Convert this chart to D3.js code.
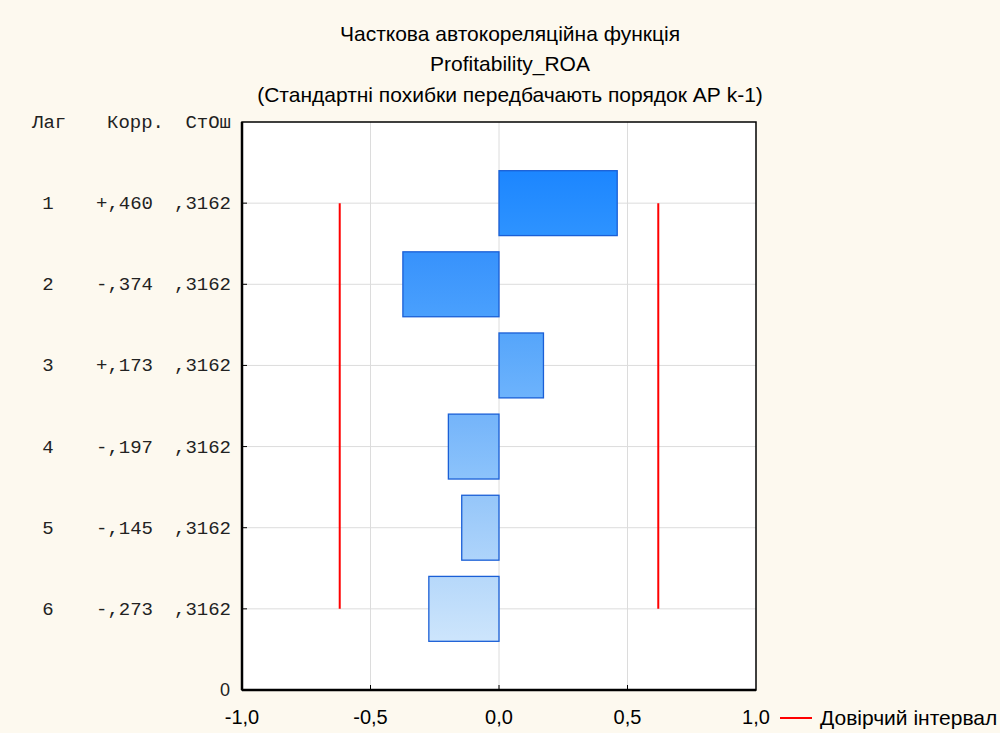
<!DOCTYPE html>
<html><head><meta charset="utf-8">
<script src="https://cdn.jsdelivr.net/npm/d3@7"></script>
<style>
html,body{margin:0;padding:0;background:#fdf9ef;}
svg{display:block;}
</style></head>
<body>
<svg id="chart" width="1000" height="733"></svg>
<script>
// ---- data ----
const titleLines = ["Часткова автокореляційна функція", "Profitability_ROA", "(Стандартні похибки передбачають порядок АР k-1)"];
const lags = [1, 2, 3, 4, 5, 6];
const corr = [0.460, -0.374, 0.173, -0.197, -0.145, -0.273];
const corrLabels = ["+,460", "-,374", "+,173", "-,197", "-,145", "-,273"];
const stdErr = [0.3162, 0.3162, 0.3162, 0.3162, 0.3162, 0.3162];
const stdErrLabels = [",3162", ",3162", ",3162", ",3162", ",3162", ",3162"];
const xTicks = [-1, -0.5, 0, 0.5, 1];
const xTickLabels = ["-1,0", "-0,5", "0,0", "0,5", "1,0"];
const headers = ["Лаг", "Корр.", "СтОш"];
const legendLabel = "Довірчий інтервал";
const confZ = 1.96;

// ---- styles ----
const barColors = [["#1c86ff", "#2e93ff"], ["#3792fc", "#4aa0fd"], ["#55a5fb", "#6db3fc"], ["#74b4fa", "#8cc3fb"], ["#95c6f9", "#aed4fb"], ["#b6d8fa", "#cde5fc"]];
const sans = "'Liberation Sans', Arial, sans-serif";
const mono = "'Liberation Mono', 'Courier New', monospace";

const svg = d3.select("#chart");
const M = {left: 242, right: 756, top: 122, bottom: 690};
const x = d3.scaleLinear().domain([-1, 1]).range([M.left, M.right]);
const y = d3.scaleLinear().domain([0, 7]).range([M.top, M.bottom]);

// plot area
svg.append("rect").attr("x", M.left).attr("y", M.top).attr("width", M.right - M.left).attr("height", M.bottom - M.top).attr("fill", "#fff");

// gradients
const defs = svg.append("defs");
barColors.forEach((c, i) => {
  const g = defs.append("linearGradient").attr("id", "g" + i).attr("x1", 0).attr("y1", 0).attr("x2", 0).attr("y2", 1);
  g.append("stop").attr("offset", "0%").attr("stop-color", c[0]);
  g.append("stop").attr("offset", "100%").attr("stop-color", c[1]);
});

// grid
svg.append("g").selectAll("line").data([-0.5, 0, 0.5]).join("line")
  .attr("x1", d => x(d)).attr("x2", d => x(d)).attr("y1", M.top).attr("y2", M.bottom)
  .attr("stroke", "#dcdcdc").attr("stroke-width", 1);
svg.append("g").selectAll("line").data(lags).join("line")
  .attr("x1", M.left).attr("x2", M.right).attr("y1", d => y(d)).attr("y2", d => y(d))
  .attr("stroke", "#dcdcdc").attr("stroke-width", 1);

// bars
const bh = y(0.8) - y(0);
svg.append("g").selectAll("rect").data(corr).join("rect")
  .attr("x", d => x(Math.min(0, d)))
  .attr("width", d => Math.abs(x(d) - x(0)))
  .attr("y", (d, i) => y(lags[i]) - bh / 2)
  .attr("height", bh)
  .attr("fill", (d, i) => `url(#g${i})`)
  .attr("stroke", "#1a5fd6").attr("stroke-width", 1.3);

// confidence lines
const ci = confZ * stdErr[0];
svg.append("g").selectAll("line").data([-ci, ci]).join("line")
  .attr("x1", d => x(d)).attr("x2", d => x(d))
  .attr("y1", y(lags[0])).attr("y2", y(lags[lags.length - 1]))
  .attr("stroke", "#ff0000").attr("stroke-width", 2);

// frame
svg.append("rect").attr("x", M.left).attr("y", M.top).attr("width", M.right - M.left).attr("height", M.bottom - M.top)
  .attr("fill", "none").attr("stroke", "#000").attr("stroke-width", 1.5);
svg.append("line").attr("x1", M.left).attr("x2", M.left).attr("y1", M.top).attr("y2", M.bottom).attr("stroke", "#000").attr("stroke-width", 2.5);
svg.append("line").attr("x1", M.left).attr("x2", M.right).attr("y1", M.bottom).attr("y2", M.bottom).attr("stroke", "#000").attr("stroke-width", 2.5);

// inner ticks
svg.append("g").selectAll("line").data(xTicks.slice(1, -1)).join("line")
  .attr("x1", d => x(d)).attr("x2", d => x(d)).attr("y1", M.bottom).attr("y2", M.bottom - 5)
  .attr("stroke", "#000").attr("stroke-width", 1);
svg.append("g").selectAll("line").data(lags).join("line")
  .attr("x1", M.left).attr("x2", M.left + 5).attr("y1", d => y(d)).attr("y2", d => y(d))
  .attr("stroke", "#000").attr("stroke-width", 1);

// x tick labels
svg.append("g").selectAll("text").data(xTicks).join("text")
  .attr("x", d => x(d)).attr("y", 724).attr("text-anchor", "middle")
  .attr("font-family", sans).attr("font-size", 20)
  .attr("fill", "#000").text((d, i) => xTickLabels[i]);
// y bottom label "0"
svg.append("text").attr("x", 230).attr("y", y(7) + 6).attr("text-anchor", "end")
  .attr("font-family", sans).attr("font-size", 18).attr("fill", "#222").text("0");

// title
svg.append("g").selectAll("text").data(titleLines).join("text")
  .attr("x", 510).attr("y", (d, i) => 40.5 + i * 30.5).attr("text-anchor", "middle")
  .attr("font-family", sans).attr("font-size", 21).attr("fill", "#000")
  .text(d => d);

// left table
const tbl = svg.append("g").attr("font-family", mono).attr("font-size", 19).attr("fill", "#222");
tbl.append("text").attr("x", 32).attr("y", y(0) + 6).text(headers[0]);
tbl.append("text").attr("x", 107).attr("y", y(0) + 6).text(headers[1]);
tbl.append("text").attr("x", 231).attr("y", y(0) + 6).attr("text-anchor", "end").text(headers[2]);
tbl.selectAll("text.lag").data(lags).join("text").attr("class", "lag")
  .attr("x", 48).attr("y", d => y(d) + 6).attr("text-anchor", "middle").text(d => d);
tbl.selectAll("text.cr").data(corrLabels).join("text").attr("class", "cr")
  .attr("x", 153).attr("y", (d, i) => y(lags[i]) + 6).attr("text-anchor", "end").text(d => d);
tbl.selectAll("text.se").data(stdErrLabels).join("text").attr("class", "se")
  .attr("x", 231).attr("y", (d, i) => y(lags[i]) + 6).attr("text-anchor", "end").text(d => d);

// legend
svg.append("line").attr("x1", 780).attr("x2", 812).attr("y1", 718).attr("y2", 718).attr("stroke", "#ff0000").attr("stroke-width", 2);
svg.append("text").attr("x", 820).attr("y", 725).attr("font-family", sans)
  .attr("font-size", 21).attr("fill", "#000").text(legendLabel);
</script>
</body></html>
